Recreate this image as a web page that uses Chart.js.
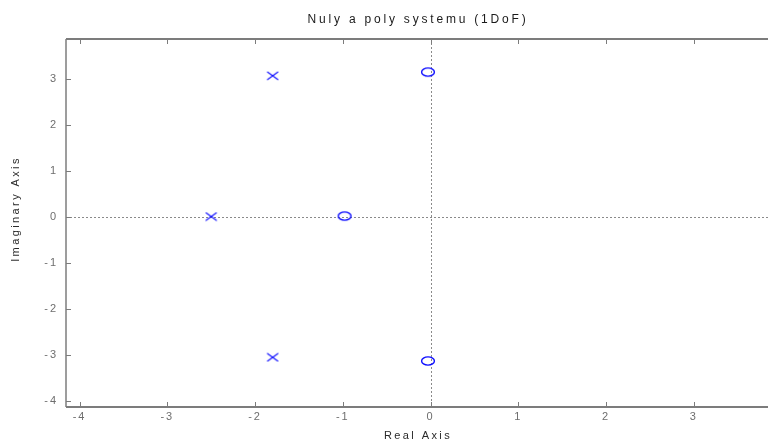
<!DOCTYPE html>
<html lang="cs">
<head>
  <meta charset="UTF-8" />
  <title>Nuly a poly systemu (1DoF)</title>
  <script src="https://cdn.jsdelivr.net/npm/chart.js"></script>
  <style>
    html, body { margin: 0; padding: 0; background: #fff; }
    #wrap { width: 768px; height: 443px; }
  </style>
</head>
<body>
  <div id="wrap"><canvas id="pzmap" width="768" height="443"></canvas></div>

  <script>
    // data
    const poleRe = [-1.80, -2.50, -1.80];
    const poleIm = [3.06, 0.00, -3.06];
    const zeroRe = [-0.03, -0.98, -0.03];
    const zeroIm = [3.14, 0.01, -3.14];

    const xTicks = [-4, -3, -2, -1, 0, 1, 2, 3];
    const yTicks = [-4, -3, -2, -1, 0, 1, 2, 3];

    const titleText = 'Nuly a poly systemu (1DoF)';
    const xLabel = 'Real Axis';
    const yLabel = 'Imaginary Axis';

    const blue = '#0f0fff';
    const frameColor = '#7c7c7c';

    // stretched markers like in the picture (x and o are wider than tall)
    function makeCross() {
      const c = document.createElement('canvas');
      c.width = 14; c.height = 10;
      const g = c.getContext('2d');
      g.strokeStyle = blue;
      g.lineWidth = 1.1;
      g.beginPath();
      g.moveTo(1.5, 1); g.lineTo(12.5, 9);
      g.moveTo(1.5, 9); g.lineTo(12.5, 1);
      g.stroke();
      return c;
    }

    function makeRing() {
      const c = document.createElement('canvas');
      c.width = 16; c.height = 12;
      const g = c.getContext('2d');
      g.strokeStyle = blue;
      g.lineWidth = 1.4;
      g.beginPath();
      g.ellipse(8, 6, 6.4, 4.1, 0, 0, Math.PI * 2);
      g.stroke();
      return c;
    }

    const toPoints = (re, im) => re.map((v, i) => ({ x: v, y: im[i] }));

    // frame, inward ticks, zero lines and texts
    const matlabAxes = {
      id: 'matlabAxes',
      beforeDraw(chart) {
        chart.ctx.letterSpacing = '2px';
      },
      beforeDatasetsDraw(chart) {
        const { ctx, chartArea: a, scales: { x, y } } = chart;
        ctx.save();
        ctx.strokeStyle = '#8a8a8a';
        ctx.lineWidth = 1;
        ctx.setLineDash([2, 2]);
        const x0 = Math.round(x.getPixelForValue(0)) + 0.5;
        const y0 = Math.round(y.getPixelForValue(0)) + 0.5;
        ctx.beginPath();
        ctx.moveTo(x0, a.top); ctx.lineTo(x0, a.bottom);
        ctx.moveTo(a.left, y0); ctx.lineTo(a.right, y0);
        ctx.stroke();
        ctx.restore();
      },
      afterDraw(chart) {
        const { ctx, chartArea: a, scales: { x, y } } = chart;
        ctx.save();
        ctx.strokeStyle = frameColor;

        // box (right side falls outside the canvas)
        ctx.lineWidth = 2;
        ctx.beginPath();
        ctx.moveTo(a.left, a.top); ctx.lineTo(a.right, a.top);
        ctx.moveTo(a.left, a.bottom); ctx.lineTo(a.right, a.bottom);
        ctx.stroke();
        ctx.lineWidth = 1.5;
        ctx.beginPath();
        ctx.moveTo(a.left, a.top); ctx.lineTo(a.left, a.bottom);
        ctx.stroke();

        // ticks pointing inside
        ctx.lineWidth = 1;
        ctx.beginPath();
        xTicks.forEach(v => {
          const px = Math.round(x.getPixelForValue(v)) + 0.5;
          ctx.moveTo(px, a.bottom); ctx.lineTo(px, a.bottom - 5);
          ctx.moveTo(px, a.top); ctx.lineTo(px, a.top + 5);
        });
        yTicks.forEach(v => {
          const py = Math.round(y.getPixelForValue(v)) + 0.5;
          ctx.moveTo(a.left, py); ctx.lineTo(a.left + 5, py);
        });
        ctx.stroke();

        // title and axis labels
        const cx = (a.left + a.right) / 2;
        ctx.textAlign = 'center';
        ctx.textBaseline = 'middle';
        ctx.fillStyle = '#1a1a1a';
        ctx.letterSpacing = '2.8px';
        ctx.font = '12px "Liberation Sans", Arial, sans-serif';
        ctx.fillText(titleText, cx + 1, 20);

        ctx.fillStyle = '#2a2a2a';
        ctx.letterSpacing = '2.4px';
        ctx.font = '11px "Liberation Sans", Arial, sans-serif';
        ctx.fillText(xLabel, cx + 1, 436);

        ctx.translate(16, 209);
        ctx.rotate(-Math.PI / 2);
        ctx.fillText(yLabel, 0, 0);
        ctx.restore();
      }
    };

    new Chart(document.getElementById('pzmap'), {
      type: 'scatter',
      data: {
        datasets: [
          {
            label: 'Poles',
            data: toPoints(poleRe, poleIm),
            pointStyle: makeCross(),
            pointRadius: 6,
            pointHoverRadius: 6
          },
          {
            label: 'Zeros',
            data: toPoints(zeroRe, zeroIm),
            pointStyle: makeRing(),
            pointRadius: 7,
            pointHoverRadius: 7
          }
        ]
      },
      options: {
        responsive: false,
        animation: false,
        layout: { autoPadding: false, padding: { top: 39, right: 0, bottom: 0, left: 0 } },
        plugins: {
          legend: { display: false },
          tooltip: { enabled: false },
          title: { display: false }
        },
        scales: {
          x: {
            type: 'linear',
            min: -4.155,
            max: 3.845,
            afterBuildTicks: s => { s.ticks = xTicks.map(v => ({ value: v })); },
            afterFit: s => { s.height = 36; s.paddingLeft = 0; s.paddingRight = 0; },
            grid: { display: false, drawTicks: false },
            border: { display: false },
            ticks: {
              padding: 3,
              color: '#6e6e6e',
              font: { family: '"Liberation Sans", Arial, sans-serif', size: 11 },
              maxRotation: 0,
              callback: v => String(v)
            }
          },
          y: {
            type: 'linear',
            min: -4.14,
            max: 3.86,
            afterBuildTicks: s => { s.ticks = yTicks.map(v => ({ value: v })); },
            afterFit: s => { s.width = 66; s.paddingTop = 0; s.paddingBottom = 0; },
            grid: { display: false, drawTicks: false },
            border: { display: false },
            ticks: {
              padding: 8,
              color: '#6e6e6e',
              font: { family: '"Liberation Sans", Arial, sans-serif', size: 11 },
              callback: v => String(v)
            }
          }
        }
      },
      plugins: [matlabAxes]
    });
  </script>
</body>
</html>
